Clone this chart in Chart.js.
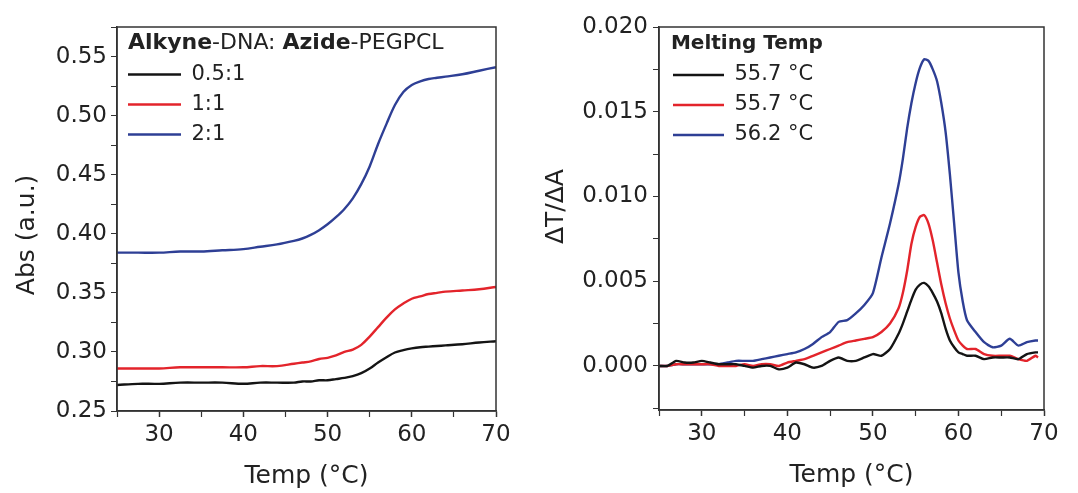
<!DOCTYPE html>
<html>
  <head>
    <meta charset="utf-8" />
    <title>Melting curves</title>
    <style>
      html,
      body {
        margin: 0;
        padding: 0;
        background: #fff;
      }

      .panel {
        position: absolute;
        top: 0;
      }

      #left {
        left: 0;
      }

      #right {
        left: 540px;
      }
    </style>
  </head>
  <body>
    <div class="panel" id="left"><canvas id="chart-abs" width="540" height="493"></canvas></div>
    <div class="panel" id="right"><canvas id="chart-deriv" width="538" height="493"></canvas></div>

    <script src="https://cdn.jsdelivr.net/npm/chart.js@4"></script>
    <script type="text/javascript">
      // left panel: absorbance vs temperature
      const absTemps = [25, 27.5, 30, 32.5, 35, 37.5, 40, 42, 44, 46, 47, 48, 49, 50, 51, 52, 53, 54, 55, 56, 57, 58, 59, 60, 61, 62, 63, 64, 66, 68, 70];
      const absBlack = [0.272, 0.273, 0.273, 0.274, 0.274, 0.274, 0.273, 0.274, 0.274, 0.274, 0.275, 0.275, 0.276, 0.276, 0.277, 0.278, 0.2795, 0.282, 0.286, 0.291, 0.2955, 0.2995, 0.3015, 0.303, 0.304, 0.3045, 0.305, 0.3055, 0.3065, 0.308, 0.309];
      const absRed = [0.286, 0.286, 0.286, 0.287, 0.287, 0.287, 0.287, 0.288, 0.288, 0.29, 0.291, 0.292, 0.294, 0.295, 0.297, 0.3, 0.302, 0.306, 0.313, 0.321, 0.329, 0.336, 0.341, 0.345, 0.347, 0.349, 0.35, 0.351, 0.352, 0.353, 0.355];
      const absBlue = [0.384, 0.384, 0.384, 0.385, 0.385, 0.386, 0.387, 0.389, 0.391, 0.394, 0.396, 0.399, 0.403, 0.408, 0.414, 0.421, 0.43, 0.442, 0.457, 0.476, 0.493, 0.509, 0.52, 0.526, 0.529, 0.531, 0.532, 0.533, 0.535, 0.538, 0.541];
      const absLabels = ['0.5:1', '1:1', '2:1'];

      // right panel: derivative
      const derivTemps = [
        25, 26, 27, 28, 29, 30, 31, 32, 33, 34, 35, 36, 37, 38, 39, 40, 41, 42, 43, 44, 45, 46, 47, 48, 49, 50, 51, 52, 53,
        53.5, 54, 54.5, 55, 55.5, 56, 56.5, 57, 57.5, 58, 58.5, 59, 59.5, 60, 60.5, 61,
        62, 63, 64, 65, 66, 67, 68, 69, 69.3,
      ];
      const derivBlack = [
        0.0, 0.0, 0.0003, 0.0002, 0.0002, 0.0003, 0.0002, 0.0001, 0.0001, 0.0001, 0.0, -0.0001, 0.0, 0.0, -0.0002, -0.0001, 0.0002, 0.0001, -0.0001, 0.0, 0.0003, 0.0005, 0.0003, 0.0003, 0.0005, 0.0007, 0.0006, 0.001, 0.0019,
        0.0025, 0.0032, 0.0039, 0.0045, 0.0048, 0.0049, 0.0047, 0.0043, 0.0038, 0.0031, 0.0022, 0.0015, 0.0011, 0.0008, 0.0007, 0.0006,
        0.0006, 0.0004, 0.0005, 0.0005, 0.0005, 0.0004, 0.0007, 0.0008, 0.0008,
      ];
      const derivRed = [
        0.0, 0.0, 0.0001, 0.0001, 0.0001, 0.0001, 0.0001, 0.0, 0.0, 0.0, 0.0001, 0.0, 0.0001, 0.0001, 0.0, 0.0002, 0.0003, 0.0004, 0.0006, 0.0008, 0.001, 0.0012, 0.0014, 0.0015, 0.0016, 0.0017, 0.002, 0.0025, 0.0034,
        0.0043, 0.0056, 0.0072, 0.0082, 0.0088, 0.0089, 0.0084, 0.0074, 0.0061, 0.0048, 0.0037, 0.0028, 0.0021, 0.0015, 0.0012, 0.001,
        0.001, 0.0007, 0.0006, 0.0006, 0.0006, 0.0004, 0.0003, 0.0006, 0.0005,
      ];
      const derivBlue = [
        0.0, 0.0, 0.0001, 0.0001, 0.0001, 0.0001, 0.0001, 0.0001, 0.0002, 0.0003, 0.0003, 0.0003, 0.0004, 0.0005, 0.0006, 0.0007, 0.0008, 0.001, 0.0013, 0.0017, 0.002, 0.0026, 0.0027, 0.0031, 0.0036, 0.0043, 0.0064, 0.0084, 0.0107,
        0.0122, 0.014, 0.0155, 0.0167, 0.0176, 0.0181, 0.018, 0.0175, 0.0168, 0.0155, 0.0138, 0.0113, 0.0084, 0.0055, 0.0038, 0.0027,
        0.002, 0.0014, 0.0011, 0.0012, 0.0016, 0.0012, 0.0014, 0.0015, 0.0015,
      ];
      const derivLabels = ['55.7 °C', '55.7 °C', '56.2 °C'];

      const colors = ['#141414', '#e3242b', '#2e3f95'];
      const FONT = "'DejaVu Sans', sans-serif";
      const INK = '#222';

      Chart.defaults.font.family = FONT;
      Chart.defaults.color = INK;

      const frame = {
        id: 'frame',
        afterDatasetsDraw(chart) {
          const { ctx, chartArea: a } = chart;
          ctx.save();
          ctx.strokeStyle = '#333';
          ctx.lineWidth = 1.5;
          ctx.strokeRect(a.left, a.top, a.right - a.left, a.bottom - a.top);
          ctx.restore();
        },
      };

      // put the legend box where we want it inside the plot
      const legendMove = {
        id: 'legendMove',
        afterLayout(chart, args, opts) {
          const lg = chart.legend;
          const a = chart.chartArea;
          lg.left = a.left + opts.dx;
          lg.top = a.top + opts.dy;
          lg.width = 330;
          lg.height = 160;
          lg.right = lg.left + lg.width;
          lg.bottom = lg.top + lg.height;
        },
      };

      // legend title with mixed bold / normal parts
      const richTitle = {
        id: 'richTitle',
        afterDraw(chart, args, opts) {
          if (!opts.parts) return;
          const { ctx, chartArea: a } = chart;
          ctx.save();
          ctx.fillStyle = INK;
          ctx.textBaseline = 'middle';
          let x = a.left + opts.dx;
          for (const [text, weight] of opts.parts) {
            ctx.font = `${weight} ${opts.size}px ${FONT}`;
            ctx.fillText(text, x, a.top + opts.dy);
            x += ctx.measureText(text).width;
          }
          ctx.restore();
        },
      };

      function makeDatasets(temps, series, labels, tension) {
        return series.map((vals, i) => ({
          label: labels[i],
          data: vals.map((v, j) => ({ x: temps[j], y: v })),
          borderColor: colors[i],
          backgroundColor: colors[i],
          borderWidth: 2.4,
          pointRadius: 0,
          tension,
        }));
      }

      function axisX(titlePad) {
        return {
          type: 'linear',
          min: 25,
          max: 70,
          border: { color: '#333', width: 1.5 },
          grid: {
            drawOnChartArea: false,
            tickLength: 6,
            color: '#333',
            tickWidth: (c) => (c.tick && c.tick.value % 10 === 0 ? 1.5 : 1.2),
          },
          ticks: {
            stepSize: 5,
            autoSkip: false,
            maxRotation: 0,
            padding: 4,
            font: { size: 23 },
            color: INK,
            callback: (v) => (v % 10 === 0 ? String(v) : ''),
          },
          title: {
            display: true,
            text: 'Temp (°C)',
            font: { size: 25 },
            color: INK,
            padding: { top: 0, bottom: titlePad },
          },
        };
      }

      function legendOpts(size, pointWidth, title) {
        return {
          position: 'chartArea',
          align: 'start',
          labels: {
            usePointStyle: true,
            pointStyle: 'line',
            pointStyleWidth: pointWidth,
            padding: 9,
            color: INK,
            font: { size },
          },
          title,
        };
      }

      const chartAbs = new Chart(document.getElementById('chart-abs'), {
        type: 'line',
        data: { datasets: makeDatasets(absTemps, [absBlack, absRed, absBlue], absLabels, 0.35) },
        options: {
          animation: false,
          responsive: false,
          devicePixelRatio: 1,
          layout: { padding: { left: 0, top: 27, right: 44, bottom: 0 } },
          scales: {
            x: {
              ...axisX(2),
              afterFit: (s) => {
                s.height = 82;
              },
            },
            y: {
              min: 0.25,
              max: 0.575,
              border: { color: '#333', width: 1.5 },
              grid: {
                drawOnChartArea: false,
                tickLength: 6,
                color: '#333',
              },
              ticks: {
                stepSize: 0.025,
                autoSkip: false,
                includeBounds: false,
                padding: 4,
                font: { size: 23 },
                color: INK,
                callback: (v) => (Math.round(v * 1000) % 50 === 0 ? v.toFixed(2) : ''),
              },
              title: {
                display: true,
                text: 'Abs (a.u.)    ',
                font: { size: 25 },
                color: INK,
                padding: { top: 12, bottom: 0 },
              },
              afterFit: (s) => {
                s.width = 117;
              },
            },
          },
          plugins: {
            legend: legendOpts(21, 53, {
              display: true,
              text: '',
              font: { size: 22, weight: 'bold', lineHeight: 1 },
              padding: { top: 5, bottom: 1 },
            }),
            legendMove: { dx: 2, dy: 0 },
            richTitle: {
              dx: 11,
              dy: 16,
              size: 22,
              parts: [
                ['Alkyne', 'bold'],
                ['-DNA: ', 'normal'],
                ['Azide', 'bold'],
                ['-PEGPCL', 'normal'],
              ],
            },
            tooltip: { enabled: false },
          },
        },
        plugins: [frame, legendMove, richTitle],
      });

      const chartDeriv = new Chart(document.getElementById('chart-deriv'), {
        type: 'line',
        data: { datasets: makeDatasets(derivTemps, [derivBlack, derivRed, derivBlue], derivLabels, 0.2) },
        options: {
          animation: false,
          responsive: false,
          devicePixelRatio: 1,
          layout: { padding: { left: 0, top: 27, right: 34, bottom: 0 } },
          scales: {
            x: {
              ...axisX(3),
              afterFit: (s) => {
                s.height = 83;
              },
            },
            y: {
              min: -0.0026,
              max: 0.02,
              border: { color: '#333', width: 1.5 },
              grid: {
                drawOnChartArea: false,
                tickLength: 6,
                color: '#333',
              },
              ticks: {
                stepSize: 0.0025,
                autoSkip: false,
                includeBounds: false,
                padding: 5,
                font: { size: 23 },
                color: INK,
                callback: (v) => (Math.round(v * 10000) % 50 === 0 ? v.toFixed(3) : ''),
              },
              title: {
                display: true,
                text: '   ΔT/ΔA',
                font: { size: 25 },
                color: INK,
                padding: { top: 1, bottom: 0 },
              },
              afterFit: (s) => {
                s.width = 119;
              },
            },
          },
          plugins: {
            legend: legendOpts(21, 51, {
              display: true,
              text: ' Melting Temp',
              position: 'start',
              color: INK,
              font: { size: 20, weight: 'bold', lineHeight: 1 },
              padding: { top: 6.5, bottom: 2 },
            }),
            legendMove: { dx: 5, dy: 0 },
            tooltip: { enabled: false },
          },
        },
        plugins: [frame, legendMove],
      });
    </script>
  </body>
</html>
